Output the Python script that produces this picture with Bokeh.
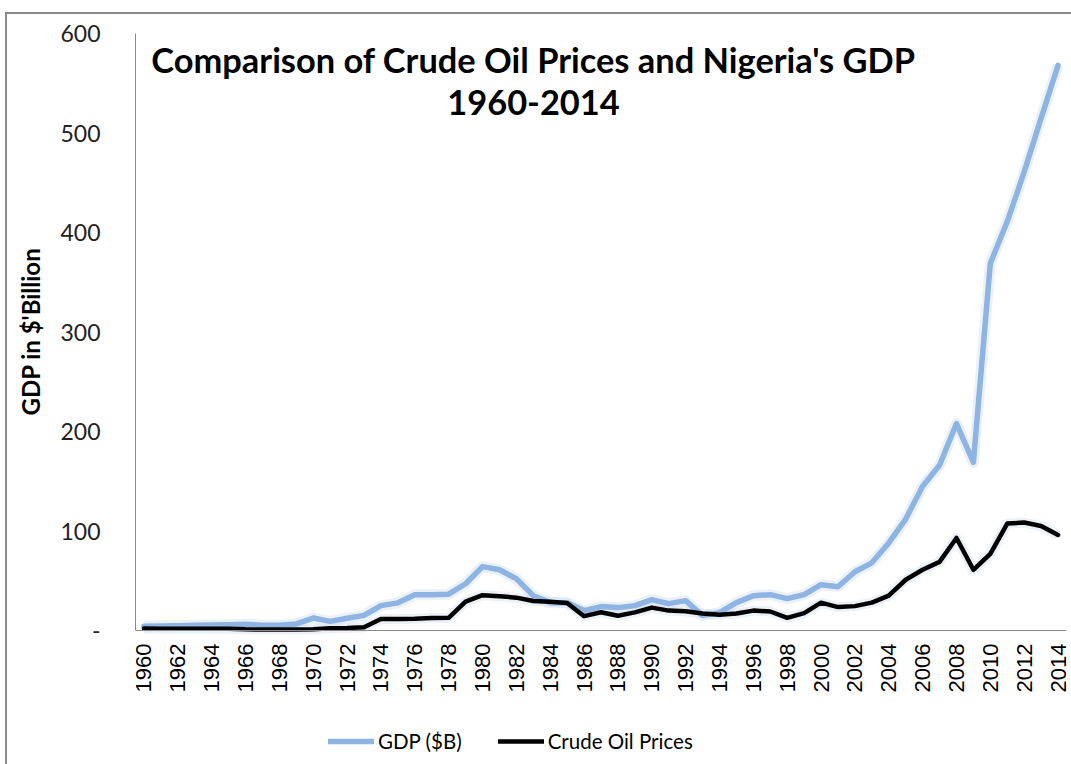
import math
from bokeh.plotting import figure
from bokeh.models import Range1d, FixedTicker, Label, Legend, LegendItem, Title
from bokeh.embed import file_html
from bokeh.resources import INLINE

# ---------------- data ----------------
years = list(range(1960, 2015))
gdp_billion = [
    4.2, 4.5, 4.9, 5.2, 5.5, 5.9, 6.4, 5.2, 5.2, 6.6,      # 1960-1969
    12.5, 9.2, 12.3, 15.2, 25.0, 27.8, 36.0, 36.0, 36.5, 47.0,  # 1970-1979
    64.2, 61.0, 52.0, 35.0, 28.0, 28.0, 20.0, 24.0, 23.0, 25.0,  # 1980-1989
    31.0, 27.0, 30.0, 15.0, 18.0, 28.0, 35.0, 36.0, 32.0, 36.0,  # 1990-1999
    46.0, 44.0, 59.0, 68.0, 88.0, 112.0, 145.0, 166.0, 208.0, 169.0,  # 2000-2009
    369.0, 411.0, 461.0, 515.0, 568.0,                     # 2010-2014
]
crude_oil_price = [
    1.9, 1.8, 1.8, 1.8, 1.8, 1.8, 1.2, 1.0, 1.0, 1.0,      # 1960-1969
    1.2, 2.2, 2.5, 3.3, 11.6, 11.5, 11.8, 12.5, 12.8, 29.0,  # 1970-1979
    35.5, 34.5, 33.0, 29.6, 28.8, 27.6, 14.4, 18.4, 14.9, 18.2,  # 1980-1989
    23.0, 20.0, 19.3, 17.0, 15.8, 17.0, 20.0, 19.1, 12.7, 17.5,  # 1990-1999
    28.0, 23.5, 24.5, 28.0, 35.0, 51.0, 61.0, 69.0, 93.0, 61.0,  # 2000-2009
    77.0, 107.5, 108.5, 105.0, 96.0,                        # 2010-2014
]
x_tick_years = list(range(1960, 2015, 2))
y_ticks = [0, 100, 200, 300, 400, 500, 600]
y_tick_labels = ["-", "100", "200", "300", "400", "500", "600"]
series_names = ["GDP ($B)", "Crude Oil Prices"]
title_lines = ["Comparison of Crude Oil Prices and Nigeria's GDP", "1960-2014"]
y_axis_title = "GDP in $'Billion"

# ---------------- layout ----------------
TOP, BOTTOM_AXIS_PX, H = 33, 630, 764
FRAME_H = H - TOP
px_per_unit = (BOTTOM_AXIS_PX - TOP) / 600.0
y_start = 600 - FRAME_H / px_per_unit   # frame reaches the canvas bottom; x axis sits at 0

p = figure(
    width=1071, height=H,
    output_backend="svg", toolbar_location=None, tools="",
    x_range=Range1d(1959.5, 2014.5), y_range=Range1d(y_start, 600),
    min_border_left=134, min_border_right=5,
    min_border_top=TOP, min_border_bottom=0,
)
# outer chart border (left/top visible, as in the cropped reference)
p.styles = {"box-shadow": "inset 5px 12px 0 0 #ffffff, inset 7px 14px 0 0 #8a8a8a",
            "background-color": "#ffffff"}
p.outline_line_color = None
p.xgrid.grid_line_color = None
p.ygrid.grid_line_color = None
p.background_fill_alpha = 0
p.border_fill_alpha = 0

# x axis, pinned at y = 0
xa = p.xaxis[0]
xa.fixed_location = 0
xa.ticker = FixedTicker(ticks=x_tick_years)
xa.major_label_orientation = math.pi / 2
xa.major_tick_line_color = None
xa.minor_tick_line_color = None
xa.axis_line_color = "#8a8a8a"
xa.major_label_text_font = "Liberation Sans"
xa.major_label_text_font_size = "22px"
xa.major_label_text_color = "#000000"
xa.major_label_standoff = 7

# y axis
ya = p.yaxis[0]
ya.bounds = (0, 600)
ya.ticker = FixedTicker(ticks=y_ticks)
ya.major_label_overrides = {t: s for t, s in zip(y_ticks, y_tick_labels)}
ya.major_tick_line_color = None
ya.minor_tick_line_color = None
ya.axis_line_color = "#8a8a8a"
ya.major_label_text_font = "Lato"
ya.major_label_text_font_size = "23px"
ya.major_label_text_color = "#222222"
ya.major_label_standoff = 29

# y-axis title, centred on the 0-600 part of the axis
p.add_layout(Title(text=y_axis_title, align="left", offset=349, standoff=26,
                   text_font="Lato", text_font_style="bold", text_font_size="24px",
                   text_color="#000000"), "left")

# soft shadows (Excel-style glow)
p.line(years, gdp_billion, line_color="#c9d8ec", line_width=11, line_alpha=0.35, line_join="round")
p.line(years, crude_oil_price, line_color="#c9d8ec", line_width=10, line_alpha=0.35, line_join="round")

r_gdp = p.line(years, gdp_billion, line_color="#8db4e2", line_width=5.5,
               line_join="round", line_cap="round")
r_oil = p.line(years, crude_oil_price, line_color="#000000", line_width=4.5,
               line_join="round", line_cap="round")

# title inside the plot area (screen px measured up from the frame bottom)
for txt, ty in zip(title_lines, [H - 59, H - 102]):
    p.add_layout(Label(x=398, y=ty, x_units="screen", y_units="screen", text=txt,
                       text_font="Lato", text_font_style="bold", text_font_size="34.4px",
                       text_align="center", text_baseline="middle", text_color="#000000"))

legend = Legend(
    items=[LegendItem(label=series_names[0], renderers=[r_gdp]),
           LegendItem(label=series_names[1], renderers=[r_oil])],
    location=(193, 11), orientation="horizontal",
    border_line_color=None, background_fill_alpha=0,
    glyph_width=46, glyph_height=22, label_standoff=4, spacing=36,
    padding=0, margin=0,
    label_text_font="Lato", label_text_font_size="20.5px", label_text_color="#000000",
)
p.add_layout(legend)

open("out.html", "w").write(file_html(p, INLINE))
